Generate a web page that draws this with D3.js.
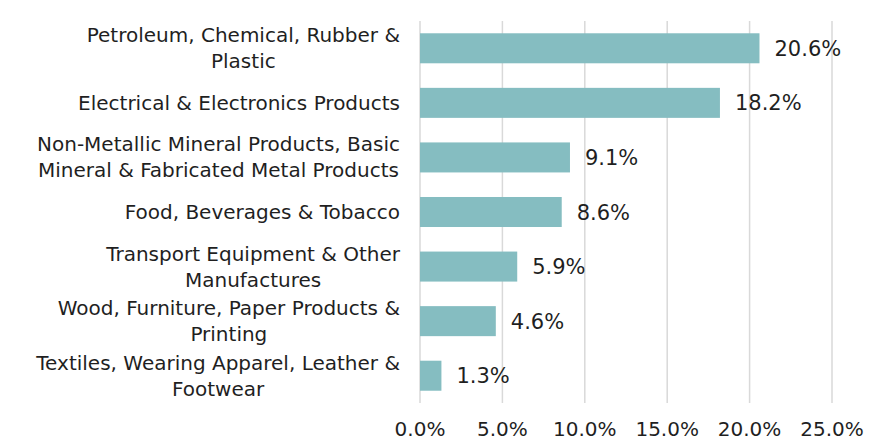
<!DOCTYPE html>
<html>
<head>
<meta charset="utf-8">
<script src="https://cdn.jsdelivr.net/npm/d3@7/dist/d3.min.js"></script>
<style>
  html, body { margin: 0; padding: 0; background: #fff; }
  svg text { font-family: "DejaVu Sans", sans-serif; fill: #1f1f1f; }
</style>
</head>
<body>
<svg id="chart" width="880" height="446"></svg>
<script>
// Share of manufacturing output by industry group
const categories = [
  "Petroleum, Chemical, Rubber & Plastic",
  "Electrical & Electronics Products",
  "Non-Metallic Mineral Products, Basic Mineral & Fabricated Metal Products",
  "Food, Beverages & Tobacco",
  "Transport Equipment & Other Manufactures",
  "Wood, Furniture, Paper Products & Printing",
  "Textiles, Wearing Apparel, Leather & Footwear"
];
// Wrapped label lines as they appear beside each bar
const labelLines = [
  ["Petroleum, Chemical, Rubber &", "Plastic"],
  ["Electrical & Electronics Products"],
  ["Non-Metallic Mineral Products, Basic", "Mineral & Fabricated Metal Products"],
  ["Food, Beverages & Tobacco"],
  ["Transport Equipment & Other", "Manufactures"],
  ["Wood, Furniture, Paper Products &", "Printing"],
  ["Textiles, Wearing Apparel, Leather &", "Footwear"]
];
const values = [20.6, 18.2, 9.1, 8.6, 5.9, 4.6, 1.3];
const tickValues = [0, 5, 10, 15, 20, 25];

const svg = d3.select("#chart");
const margin = { top: 21, left: 420, right: 48, bottom: 43 };
const W = 880, H = 446;
const labelSize = 20;
const numberSize = 21;

const x = d3.scaleLinear().domain([0, 25]).range([margin.left, W - margin.right]);
const y = d3.scaleBand().domain(categories).range([margin.top, H - margin.bottom]).paddingInner(0.45).paddingOuter(0.225);

// vertical gridlines
svg.append("g").selectAll("line").data(tickValues).join("line")
  .attr("x1", d => x(d)).attr("x2", d => x(d))
  .attr("y1", margin.top).attr("y2", H - margin.bottom)
  .attr("stroke", "#d9d9d9").attr("stroke-width", 1.5);

// bars
svg.append("g").selectAll("rect").data(values).join("rect")
  .attr("x", x(0))
  .attr("y", (d, i) => y(categories[i]))
  .attr("width", d => x(d) - x(0))
  .attr("height", y.bandwidth())
  .attr("fill", "#85bdc1");

// value labels
svg.append("g").selectAll("text").data(values).join("text")
  .attr("x", d => x(d) + 15)
  .attr("y", (d, i) => y(categories[i]) + y.bandwidth() / 2)
  .attr("dy", "0.36em")
  .attr("font-size", numberSize)
  .text(d => d.toFixed(1) + "%");

// x axis tick labels
svg.append("g").selectAll("text").data(tickValues).join("text")
  .attr("x", d => x(d))
  .attr("y", H - 10)
  .attr("text-anchor", "middle")
  .attr("font-size", labelSize)
  .text(d => d.toFixed(1) + "%");

// category labels: lines centred on each other, block right-aligned
const labelRight = 400;
const lineH = 26;
const lg = svg.append("g");
categories.forEach((c, i) => {
  const lines = labelLines[i];
  const cy = y(c) + y.bandwidth() / 2;
  const t = lg.append("text").attr("font-size", labelSize).attr("text-anchor", "middle");
  const spans = lines.map((ln, j) => t.append("tspan")
    .attr("y", cy + (j - (lines.length - 1) / 2) * lineH)
    .attr("dy", "0.35em")
    .text(ln));
  const maxW = d3.max(spans, s => s.node().getComputedTextLength());
  spans.forEach(s => s.attr("x", labelRight - maxW / 2));
});
</script>
</body>
</html>
